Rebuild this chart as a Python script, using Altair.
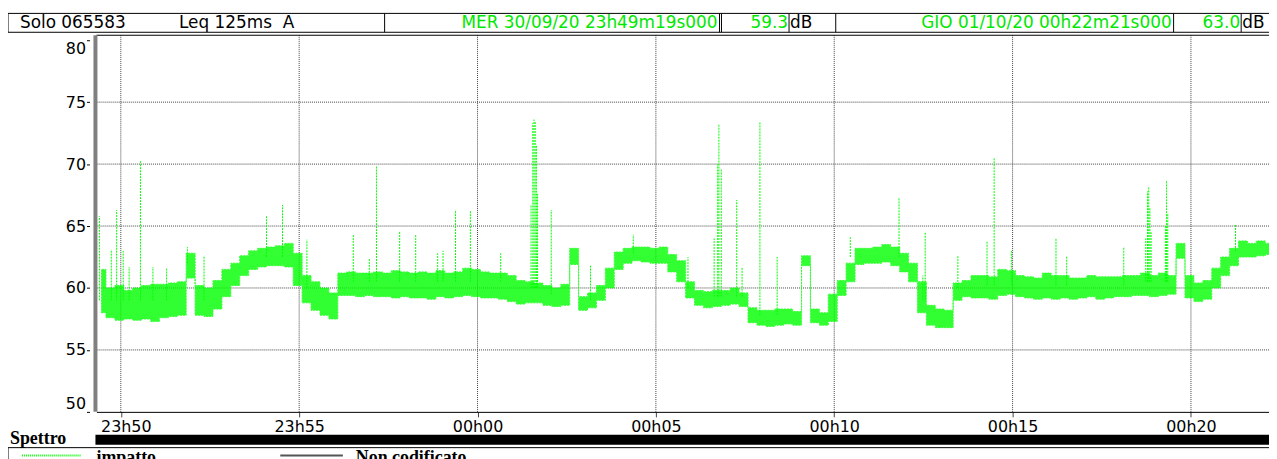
import altair as alt
import pandas as pd

# ---------------- data (time in s relative to 00h00m00s; negative = before midnight) ----------------
bin_start = list(range(-640, 1326, 15))  # 15 s bins
band_low = [
    58.0, 57.6, 57.4, 57.5, 57.4, 57.5, 57.3, 57.6, 57.7, 57.8,
    60.8, 57.8, 57.7, 58.3, 59.3, 60.2, 61.0, 61.5, 61.7, 61.8,
    61.8, 61.7, 60.2, 58.8, 58.2, 57.8, 57.5, 59.4, 59.4, 59.3,
    59.4, 59.3, 59.3, 59.2, 59.3, 59.2, 59.2, 59.1, 59.3, 59.2,
    59.3, 59.4, 59.3, 59.2, 59.2, 59.1, 58.9, 58.7, 58.8, 58.8,
    58.6, 58.5, 58.6, 61.9, 58.2, 58.4, 59.0, 60.0, 61.5, 62.0,
    62.2, 62.1, 62.0, 62.0, 61.3, 60.5, 59.2, 58.6, 58.4, 58.5,
    58.6, 58.7, 58.5, 57.2, 57.0, 56.9, 57.0, 57.1, 57.0, 61.8,
    57.2, 57.0, 57.3, 59.4, 60.5, 61.9, 62.0, 62.0, 62.1, 61.8,
    61.3, 60.5, 58.0, 57.0, 56.8, 56.8, 59.0, 59.3, 59.2, 59.2,
    59.1, 59.4, 59.5, 59.3, 59.2, 59.1, 59.2, 59.1, 59.2, 59.1,
    59.2, 59.3, 59.1, 59.2, 59.3, 59.3, 59.4, 59.4, 59.3, 59.4,
    59.5, 62.4, 59.2, 58.9, 59.1, 60.0, 61.0, 61.8, 62.5, 62.5,
    62.6, 62.7,
]
band_high = [
    61.5, 60.0, 60.2, 59.8, 60.0, 60.2, 60.3, 60.3, 60.4, 60.5,
    62.8, 60.2, 60.0, 60.6, 61.5, 62.0, 62.6, 63.0, 63.2, 63.3,
    63.4, 63.6, 62.8, 61.0, 60.5, 60.0, 59.6, 61.2, 61.3, 61.2,
    61.2, 61.3, 61.2, 61.4, 61.3, 61.2, 61.3, 61.2, 61.4, 61.2,
    61.3, 61.6, 61.5, 61.3, 61.2, 61.2, 61.0, 60.6, 60.5, 60.4,
    60.2, 60.0, 60.3, 63.2, 59.3, 59.6, 60.2, 61.6, 62.9, 63.2,
    63.3, 63.3, 63.2, 63.3, 62.7, 62.2, 60.5, 59.8, 59.7, 59.8,
    59.8, 60.0, 59.6, 58.4, 58.2, 58.2, 58.3, 58.3, 58.1, 62.6,
    58.3, 58.0, 59.5, 60.6, 62.0, 63.2, 63.2, 63.3, 63.5, 63.3,
    62.8, 62.0, 60.5, 58.6, 58.3, 58.2, 60.4, 60.6, 61.0, 61.0,
    60.9, 61.5, 61.4, 61.0, 60.9, 60.8, 61.2, 61.0, 61.0, 60.8,
    60.8, 61.0, 60.9, 60.9, 60.9, 61.0, 61.0, 61.2, 61.0, 61.2,
    61.0, 63.6, 61.0, 60.4, 60.6, 61.6, 62.5, 63.2, 63.8, 63.6,
    63.8, 63.6,
]

spike_time = [-636, -616, -607, -596, -586, -567, -546, -523, -488, -460,
              -355, -328, -287, -209, -182, -170, -131, -104, -67, -58,
              -37, -12, 39, 90, 93, 95, 97, 99, 101, 124,
              190, 262, 354, 398, 404, 406, 410, 436, 445, 475,
              504, 627, 709, 749, 753, 808, 857, 869, 898, 973,
              991, 1087, 1124, 1127, 1129, 1131, 1133, 1157, 1159, 1161,
              1275]
spike_base = [59.0, 59.0, 59.0, 59.0, 59.0, 59.0, 59.0, 59.0, 62.0, 59.0,
              62.5, 62.5, 60.0, 60.5, 60.5, 60.5, 60.5, 60.5, 60.5, 60.5,
              60.5, 60.5, 60.5, 60.0, 60.0, 60.0, 60.0, 60.0, 60.0, 59.5,
              59.0, 62.8, 60.0, 59.3, 59.3, 59.3, 59.3, 59.3, 59.3, 57.8,
              57.8, 62.5, 62.5, 59.0, 59.0, 60.0, 60.2, 60.2, 60.2, 60.2,
              60.2, 60.2, 60.5, 60.5, 60.5, 60.5, 60.5, 60.5, 60.5, 60.5,
              63.0]
spike_peak = [65.8, 63.1, 66.3, 63.0, 61.7, 70.3, 61.7, 61.6, 63.3, 62.6,
              65.8, 66.7, 63.9, 64.3, 62.4, 69.8, 64.6, 64.3, 62.8, 63.0,
              66.3, 66.2, 62.8, 66.7, 73.3, 73.6, 73.4, 71.5, 67.6, 66.3,
              61.8, 64.3, 62.5, 64.0, 70.0, 73.2, 69.6, 67.1, 61.7, 73.4,
              62.5, 64.1, 67.3, 61.0, 64.5, 62.6, 63.8, 70.5, 63.0, 64.0,
              62.6, 63.3, 64.0, 67.8, 68.2, 66.5, 64.5, 65.0, 68.7, 66.0,
              65.1]

y_ticks = [50, 55, 60, 65, 70, 75, 80]
grid_y = [55, 60, 65, 70, 75]
x_tick_values = [-600, -300, 0, 300, 600, 900, 1200]
x_tick_labels = ["23h50", "23h55", "00h00", "00h05", "00h10", "00h15", "00h20"]

header_left = ["Solo 065583", "Leq 125ms\u00a0\u00a0A"]
start_stamp, start_level = "MER 30/09/20 23h49m19s000", "59.3"
end_stamp, end_level = "GIO 01/10/20 00h22m21s000", "63.0"
unit = "dB"

# ---------------- layout ----------------
T0, T1 = -641, 1331.3
W, H = 1180, 379
GREEN = "#00ff00"
TXT_GREEN = "#00e800"
SANS = "DejaVu Sans"
SERIF = "Liberation Serif"
BIN = 15

xs = alt.Scale(domain=[T0, T1], nice=False, zero=False)
ys = alt.Scale(domain=[50, 80.4], nice=False, zero=False)

band = pd.DataFrame({"t0": bin_start, "low": band_low, "high": band_high})
band["tc"] = band["t0"] + BIN / 2

spikes = pd.DataFrame({"t": spike_time, "base": spike_base, "peak": spike_peak})

label_expr = "''"
for v, l in zip(reversed(x_tick_values), reversed(x_tick_labels)):
    label_expr = f"datum.value == {v} ? '{l}' : ({label_expr})"

one = pd.DataFrame({"a": [0]})

grid_h = alt.Chart(pd.DataFrame({"v": grid_y})).mark_rule(
    color="#444444", strokeWidth=1, strokeDash=[1, 1]
).encode(y=alt.Y("v:Q", scale=ys))

grid_v = alt.Chart(pd.DataFrame({"v": x_tick_values})).mark_rule(
    color="#444444", strokeWidth=1, strokeDash=[1, 1]
).encode(x=alt.X("v:Q", scale=xs))

band_layer = alt.Chart(band).mark_area(
    color=GREEN, opacity=0.8, interpolate="step", clip=True,
    stroke=GREEN, strokeWidth=1, strokeDash=[2, 1]
).encode(
    x=alt.X("tc:Q", scale=xs,
            axis=alt.Axis(values=x_tick_values, labelExpr=label_expr, title=None, grid=False,
                          domainColor="black", domainWidth=1, tickColor="#444444", tickSize=5,
                          labelFont=SANS, labelFontSize=16, labelColor="black", labelPadding=2,
                          labelOffset={"condition": {"test": "datum.value == -600", "value": 5},
                                       "value": 0})),
    y=alt.Y("low:Q", scale=ys,
            axis=alt.Axis(values=y_ticks, title=None, grid=False, domain=False, offset=7,
                          tickSize=3, tickColor="black", labelFont=SANS, labelFontSize=16,
                          labelColor="black", labelPadding=1, labelFlush=8)),
    y2="high:Q",
)

spike_layer = alt.Chart(spikes).mark_rule(color=GREEN, strokeWidth=1, strokeDash=[2, 1]).encode(
    x=alt.X("t:Q", scale=xs), y=alt.Y("base:Q", scale=ys), y2="peak:Q"
)


def hline(x1, x2, y, color="black", w=1, dash=None):
    kw = {"strokeDash": dash} if dash else {}
    return alt.Chart(one).mark_rule(color=color, strokeWidth=w, **kw).encode(
        x=alt.value(x1), x2=alt.value(x2), y=alt.value(y))


def vline(x, y1, y2, color="black", w=1):
    return alt.Chart(one).mark_rule(color=color, strokeWidth=w).encode(
        x=alt.value(x), y=alt.value(y1), y2=alt.value(y2))


def txt(s, x, y, color="black", align="left", size=17, font=SANS, weight="normal"):
    return alt.Chart(pd.DataFrame({"s": [s]})).mark_text(
        align=align, baseline="alphabetic", color=color, fontSize=size, font=font, fontWeight=weight
    ).encode(x=alt.value(x), y=alt.value(y), text="s:N")


deco = [
    # plot frame top and left gray bar
    hline(0, W, 0),
    vline(-1, 0, H, color="#808080", w=4),
    # header box
    hline(-89, W, -22), hline(-89, W, -3),
    vline(-89, -22, -3), vline(290, -22, -3), vline(627, -22, -3), vline(629, -22, -3),
    vline(697, -22, -3), vline(744, -22, -3), vline(1084, -22, -3), vline(1152, -22, -3),
    txt(header_left[0], -77, -7), txt(header_left[1], 83, -7),
    txt(start_stamp, 625, -7, color=TXT_GREEN, align="right"),
    txt(start_level, 696, -7, color=TXT_GREEN, align="right"),
    txt(unit, 698, -7),
    txt(end_stamp, 1082, -7, color=TXT_GREEN, align="right"),
    txt(end_level, 1151, -7, color=TXT_GREEN, align="right"),
    txt(unit, 1153, -7),
    # Spettro bar
    alt.Chart(one).mark_rect(color="black").encode(
        x=alt.value(-1), x2=alt.value(W), y=alt.value(402), y2=alt.value(412)),
    txt("Spettro", -87, 411, font=SERIF, weight="bold", size=18),
    # legend box (cut off by the window like in the reference)
    hline(-89, W, 415), vline(-89, 415, 430),
    hline(-75, -15, 423, color=GREEN, w=2, dash=[1, 1]),
    txt("impatto", 0, 430, font=SERIF, weight="bold", size=18),
    hline(185, 248, 423, color="#555555", w=2),
    txt("Non codificato", 261, 430, font=SERIF, weight="bold", size=18),
]

chart = alt.layer(grid_h, grid_v, band_layer, spike_layer, *deco).properties(
    width=W, height=H,
    autosize=alt.AutoSizeParams(type="none"),
    padding={"left": 89, "top": 26, "right": 0, "bottom": 46},
).configure_view(stroke=None)

chart.save("out.html", embed_options={"renderer": "svg", "actions": False})
